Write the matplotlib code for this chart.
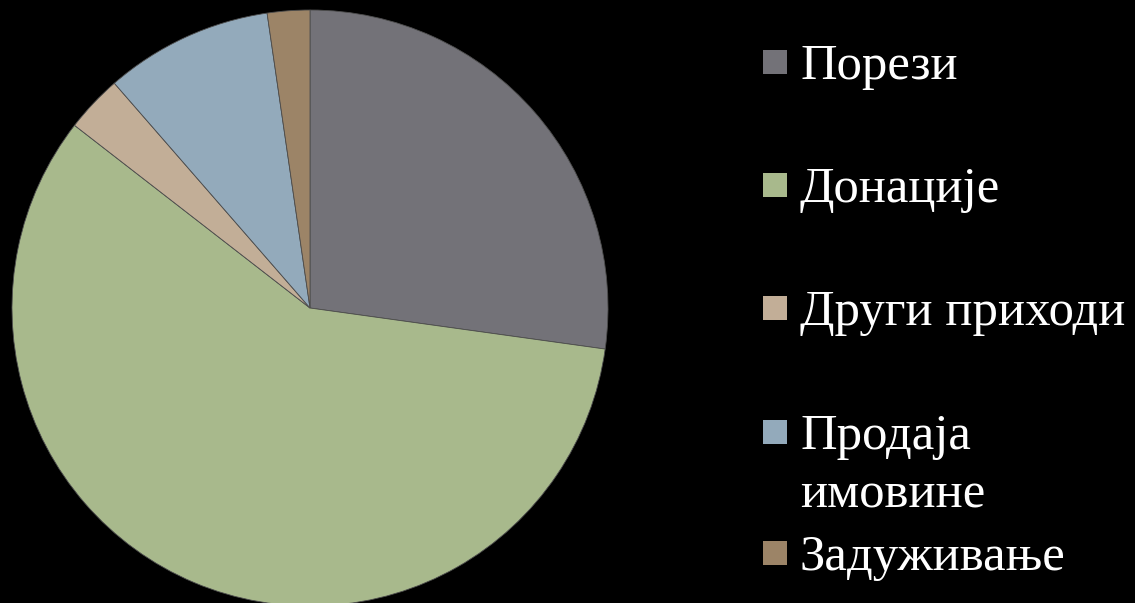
import matplotlib.pyplot as plt
from matplotlib.patches import Rectangle

# revenue shares (percent)
labels = ["Порези", "Донације", "Други приходи", "Продаја\nимовине", "Задуживање"]
shares = [27.2, 58.3, 3.1, 9.1, 2.3]
colors = ["#737278", "#A8B98C", "#C2AE97", "#93AABB", "#9C8467"]

W, H = 1135, 603
fig = plt.figure(figsize=(W / 100, H / 100), dpi=100, facecolor="black")

# pie centre at (310, 308) px from top-left, radius ~298 px
cx, cy, r = 310, 308, 298
ax = fig.add_axes([(cx - r) / W, (H - cy - r) / H, 2 * r / W, 2 * r / H])
ax.set_facecolor("black")
ax.pie(shares, colors=colors, startangle=90, counterclock=False, radius=1,
       wedgeprops=dict(edgecolor="#4d4d4d", linewidth=0.6))
ax.set_xlim(-1, 1)
ax.set_ylim(-1, 1)
ax.set_aspect("equal")
ax.axis("off")

# legend, drawn by hand so the marker sits on the first line of each label
ys = [62, 185, 308, 432, 553]
sq = 24
line_h = 58
for lab, col, y in zip(labels, colors, ys):
    fig.patches.append(Rectangle((763 / W, (H - y - sq / 2) / H), sq / W, sq / H,
                                 transform=fig.transFigure, facecolor=col,
                                 edgecolor="none"))
    for k, part in enumerate(lab.split("\n")):
        fig.text(800 / W, (H - y - 17 - k * line_h) / H, part, color="white",
                 fontsize=36.5, family="Liberation Serif", ha="left",
                 va="baseline")

fig.savefig("out.png", dpi=100, facecolor="black")
